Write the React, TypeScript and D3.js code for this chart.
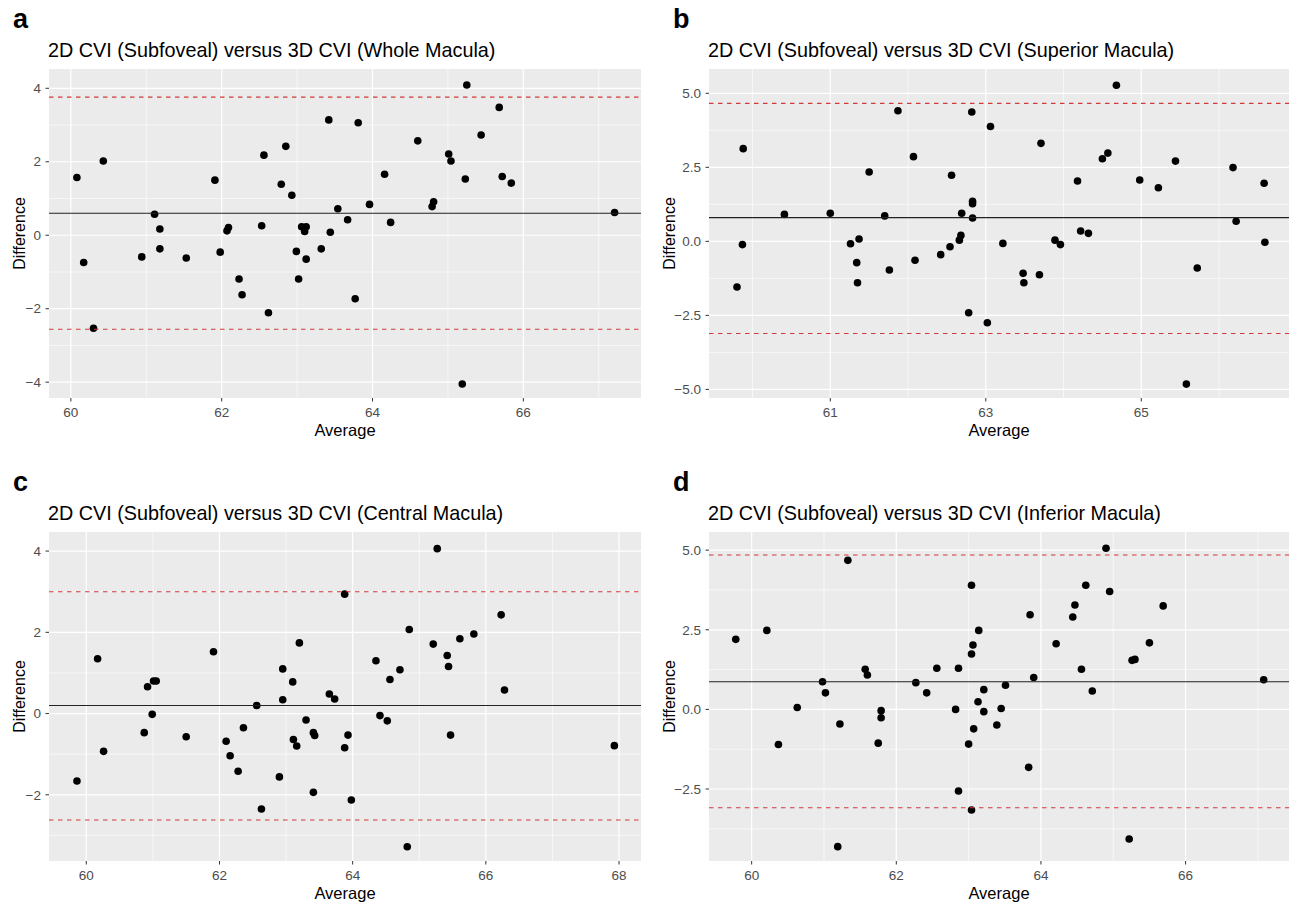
import React from "react";
import * as d3 from "d3";

// Bland-Altman points: [average, difference]
const wholeMacula: [number, number][] = [
  [60.08, 1.57], [60.17, -0.74], [60.43, 2.02], [60.30, -2.53], [60.94, -0.59],
  [61.11, 0.57], [61.18, 0.17], [61.18, -0.37], [61.53, -0.62], [61.91, 1.50],
  [61.98, -0.46], [62.07, 0.12], [62.09, 0.21], [62.23, -1.19], [62.27, -1.62],
  [62.53, 0.26], [62.56, 2.18], [62.62, -2.11], [62.79, 1.39], [62.85, 2.42],
  [62.93, 1.09], [62.99, -0.44], [63.02, -1.19], [63.06, 0.23], [63.10, 0.10],
  [63.12, 0.23], [63.12, -0.65], [63.32, -0.37], [63.42, 3.14], [63.44, 0.08],
  [63.54, 0.72], [63.81, 3.06], [63.67, 0.42], [63.96, 0.84], [64.16, 1.66],
  [64.24, 0.35], [63.77, -1.73], [64.60, 2.57], [64.79, 0.78], [64.81, 0.91],
  [65.01, 2.21], [65.04, 2.02], [65.23, 1.53], [65.25, 4.09], [65.19, -4.05],
  [65.44, 2.73], [65.68, 3.48], [65.72, 1.60], [65.84, 1.42], [67.21, 0.62],
];

const superiorMacula: [number, number][] = [
  [59.80, -1.54], [59.88, 3.13], [59.87, -0.11], [60.41, 0.91], [61.00, 0.95],
  [61.26, -0.08], [61.37, 0.08], [61.34, -0.72], [61.35, -1.40], [61.50, 2.34],
  [61.70, 0.86], [61.76, -0.97], [61.87, 4.41], [62.07, 2.86], [62.09, -0.64],
  [62.42, -0.45], [62.54, -0.18], [62.56, 2.23], [62.66, 0.04], [62.68, 0.20],
  [62.69, 0.95], [62.78, -2.41], [62.82, 4.37], [62.83, 1.35], [62.83, 1.27],
  [62.83, 0.79], [63.06, 3.88], [63.02, -2.75], [63.22, -0.07], [63.48, -1.08],
  [63.49, -1.40], [63.71, 3.31], [63.69, -1.13], [63.89, 0.04], [63.96, -0.11],
  [64.18, 2.04], [64.22, 0.35], [64.32, 0.27], [64.50, 2.79], [64.57, 2.98],
  [64.68, 5.27], [64.98, 2.07], [65.22, 1.81], [65.44, 2.71], [65.58, -4.82],
  [65.72, -0.90], [66.18, 2.49], [66.22, 0.68], [66.58, 1.96], [66.59, -0.03],
];

const centralMacula: [number, number][] = [
  [59.86, -1.66], [60.17, 1.35], [60.26, -0.93], [60.87, -0.47], [60.92, 0.66],
  [60.99, -0.02], [61.01, 0.80], [61.05, 0.80], [61.50, -0.57], [61.91, 1.52],
  [62.10, -0.68], [62.16, -1.04], [62.28, -1.42], [62.36, -0.35], [62.56, 0.20],
  [62.63, -2.35], [62.90, -1.56], [62.95, 1.10], [62.95, 0.34], [63.10, 0.78],
  [63.11, -0.64], [63.16, -0.80], [63.20, 1.74], [63.30, -0.16], [63.41, -0.47],
  [63.43, -0.54], [63.41, -1.94], [63.65, 0.48], [63.73, 0.36], [63.88, 2.94],
  [63.93, -0.53], [63.88, -0.84], [63.98, -2.13], [64.35, 1.30], [64.41, -0.05],
  [64.52, -0.18], [64.56, 0.84], [64.71, 1.08], [64.85, 2.07], [64.82, -3.28],
  [65.21, 1.71], [65.27, 4.06], [65.42, 1.43], [65.44, 1.16], [65.47, -0.53],
  [65.61, 1.84], [65.82, 1.96], [66.23, 2.43], [66.28, 0.58], [67.93, -0.79],
];

const inferiorMacula: [number, number][] = [
  [59.78, 2.20], [60.21, 2.48], [60.37, -1.10], [60.63, 0.06], [60.98, 0.87],
  [61.02, 0.52], [61.22, -0.46], [61.19, -4.31], [61.33, 4.68], [61.57, 1.26],
  [61.60, 1.08], [61.79, -0.04], [61.79, -0.26], [61.75, -1.06], [62.27, 0.84],
  [62.42, 0.52], [62.56, 1.29], [62.82, 0.00], [62.86, 1.29], [62.86, -2.56],
  [63.00, -1.09], [63.04, 3.90], [63.06, 2.02], [63.04, 1.74], [63.07, -0.61],
  [63.04, -3.16], [63.13, 0.24], [63.14, 2.48], [63.21, 0.62], [63.21, -0.07],
  [63.51, 0.76], [63.45, 0.03], [63.39, -0.49], [63.85, 2.97], [63.90, 1.00],
  [63.83, -1.82], [64.21, 2.06], [64.44, 2.90], [64.47, 3.28], [64.56, 1.26],
  [64.62, 3.90], [64.71, 0.58], [64.90, 5.06], [64.95, 3.70], [65.22, -4.07],
  [65.26, 1.54], [65.30, 1.57], [65.50, 2.09], [65.69, 3.25], [67.08, 0.93],
];

// bias and limits of agreement: [mean, upper, lower]
const agreementA = [0.60, 3.76, -2.56];
const agreementB = [0.80, 4.66, -3.11];
const agreementC = [0.20, 3.00, -2.62];
const agreementD = [0.87, 4.85, -3.09];

const titles = [
  "2D CVI (Subfoveal) versus 3D CVI (Whole Macula)",
  "2D CVI (Subfoveal) versus 3D CVI (Superior Macula)",
  "2D CVI (Subfoveal) versus 3D CVI (Central Macula)",
  "2D CVI (Subfoveal) versus 3D CVI (Inferior Macula)",
];
const letters = ["a", "b", "c", "d"];

const xLimits = [[59.71, 67.56], [59.44, 66.9], [59.44, 68.33], [59.41, 67.43]];
const yLimits = [[-4.43, 4.525], [-5.29, 5.82], [-3.63, 4.47], [-4.76, 5.57]];

const xMajor = [[60, 62, 64, 66], [61, 63, 65], [60, 62, 64, 66, 68], [60, 62, 64, 66]];
const xMinor = [[61, 63, 65, 67], [60, 62, 64, 66], [61, 63, 65, 67], [61, 63, 65, 67]];
const yMajor = [[-4, -2, 0, 2, 4], [-5, -2.5, 0, 2.5, 5], [-2, 0, 2, 4], [-2.5, 0, 2.5, 5]];
const yMinor = [[-3, -1, 1, 3], [-3.75, -1.25, 1.25, 3.75], [-3, -1, 1, 3], [-3.75, -1.25, 1.25, 3.75]];
const yFormat = [d3.format("d"), d3.format(".1f"), d3.format("d"), d3.format(".1f")];

const allPoints = [wholeMacula, superiorMacula, centralMacula, inferiorMacula];
const allAgreement = [agreementA, agreementB, agreementC, agreementD];

const boxes = [
  { left: 49, right: 641, top: 69, bottom: 398 },
  { left: 709, right: 1289, top: 69, bottom: 398 },
  { left: 49, right: 641, top: 532, bottom: 861 },
  { left: 709, right: 1289, top: 532, bottom: 861 },
];
// y title sits further left when tick labels are wider (5.0 vs 4)
const yTitleGap = [24, 34, 24, 34];

const font = "'Liberation Sans', Arial, sans-serif";

const Panel = ({ i }: { i: number }) => {
  const b = boxes[i];
  const x = d3.scaleLinear().domain(xLimits[i]).range([b.left, b.right]);
  const y = d3.scaleLinear().domain(yLimits[i]).range([b.bottom, b.top]);
  const [mean, upper, lower] = allAgreement[i];
  const midX = (b.left + b.right) / 2;
  const midY = (b.top + b.bottom) / 2;

  return (
    <g>
      <text x={b.left - 36} y={b.top - 41} fontSize={27} fontWeight="bold" fontFamily={font}>
        {letters[i]}
      </text>
      <text x={b.left - 1} y={b.top - 12} fontSize={19.8} fontFamily={font}>
        {titles[i]}
      </text>
      <rect x={b.left} y={b.top} width={b.right - b.left} height={b.bottom - b.top} fill="#ebebeb" />
      {yMinor[i].map((v) => (
        <line key={"ym" + v} x1={b.left} x2={b.right} y1={y(v)} y2={y(v)} stroke="#fff" strokeWidth={0.6} />
      ))}
      {xMinor[i].map((v) => (
        <line key={"xm" + v} y1={b.top} y2={b.bottom} x1={x(v)} x2={x(v)} stroke="#fff" strokeWidth={0.6} />
      ))}
      {yMajor[i].map((v) => (
        <line key={"yM" + v} x1={b.left} x2={b.right} y1={y(v)} y2={y(v)} stroke="#fff" strokeWidth={1.2} />
      ))}
      {xMajor[i].map((v) => (
        <line key={"xM" + v} y1={b.top} y2={b.bottom} x1={x(v)} x2={x(v)} stroke="#fff" strokeWidth={1.2} />
      ))}
      {allPoints[i].map(([a, d], k) => (
        <circle key={k} cx={x(a)} cy={y(d)} r={3.8} fill="#000" />
      ))}
      <line x1={b.left} x2={b.right} y1={y(mean)} y2={y(mean)} stroke="#222" strokeWidth={1.1} />
      {[upper, lower].map((v) => (
        <line key={"loa" + v} x1={b.left} x2={b.right} y1={y(v)} y2={y(v)}
          stroke="#cf3b3b" strokeWidth={1.1} strokeDasharray="4.5,4.5" />
      ))}
      {yMajor[i].map((v) => (
        <g key={"yt" + v}>
          <line x1={b.left - 3.5} x2={b.left} y1={y(v)} y2={y(v)} stroke="#333" strokeWidth={1} />
          <text x={b.left - 8} y={y(v)} dy="0.35em" textAnchor="end" fontSize={13.5} fill="#4d4d4d" fontFamily={font}>
            {yFormat[i](v)}
          </text>
        </g>
      ))}
      {xMajor[i].map((v) => (
        <g key={"xt" + v}>
          <line x1={x(v)} x2={x(v)} y1={b.bottom} y2={b.bottom + 3.5} stroke="#333" strokeWidth={1} />
          <text x={x(v)} y={b.bottom + 19} textAnchor="middle" fontSize={13.5} fill="#4d4d4d" fontFamily={font}>
            {v}
          </text>
        </g>
      ))}
      <text x={midX} y={b.bottom + 38} textAnchor="middle" fontSize={16.5} fontFamily={font}>
        Average
      </text>
      <text transform={`translate(${b.left - yTitleGap[i]},${midY}) rotate(-90)`} textAnchor="middle" fontSize={16} fontFamily={font}>
        Difference
      </text>
    </g>
  );
};

export default function App() {
  return (
    <svg width={1295} height={904} style={{ position: "absolute", left: 0, top: 0, background: "#fff" }}>
      {boxes.map((_, i) => (
        <Panel key={i} i={i} />
      ))}
    </svg>
  );
}
